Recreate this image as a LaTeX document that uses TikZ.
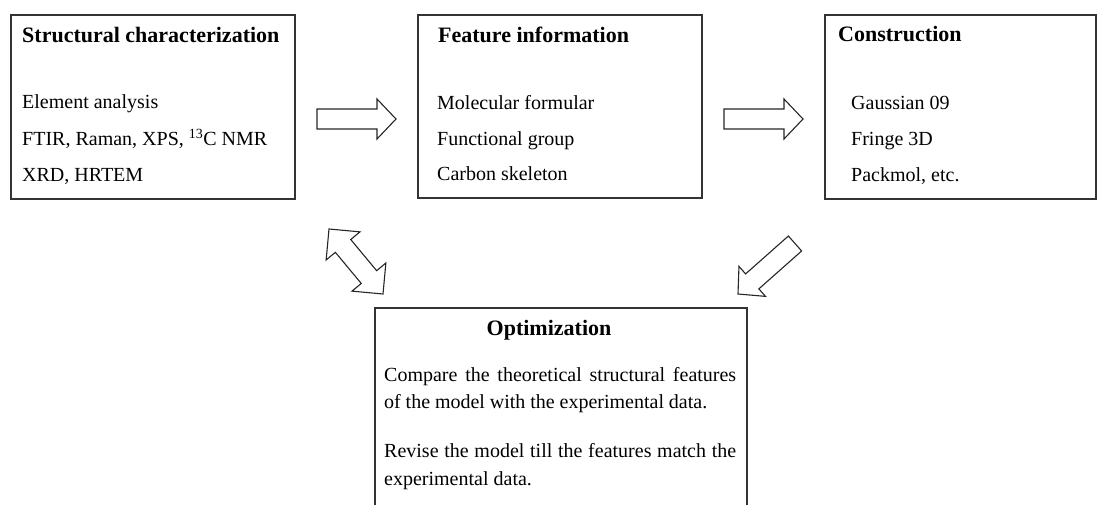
\documentclass[tikz,border=0pt]{standalone}
\usepackage{fontspec}
\setmainfont{Liberation Serif}
\usetikzlibrary{calc}
\tikzset{
  box/.style={draw=black!80, line width=1.1pt, inner sep=0pt, outer sep=0pt, anchor=north west},
  titletext/.style={anchor=base west, inner sep=0pt, font=\fontsize{22}{26}\selectfont\bfseries},
  bodytext/.style={anchor=base west, inner sep=0pt, font=\fontsize{20}{24}\selectfont},
  blockarrow/.style={draw=black!85, line width=1.1pt, fill=white, line join=miter},
}
\newcommand\blockarrowA[2]{%
  \coordinate (hb) at ($(#2)!19pt!(#1)$);
  \draw[blockarrow] ($(#1)!10pt!90:(#2)$) -- ($(hb)!10pt!-90:(#1)$) -- ($(hb)!20pt!-90:(#1)$) -- (#2)
    -- ($(hb)!20pt!90:(#1)$) -- ($(hb)!10pt!90:(#1)$) -- ($(#1)!10pt!-90:(#2)$) -- cycle;
}
\newcommand\blockarrowB[2]{%
  \coordinate (ha) at ($(#1)!22pt!(#2)$);
  \coordinate (hb) at ($(#2)!22pt!(#1)$);
  \draw[blockarrow] (#1) -- ($(ha)!22pt!90:(#2)$) -- ($(ha)!10pt!90:(#2)$) -- ($(hb)!10pt!-90:(#1)$)
    -- ($(hb)!22pt!-90:(#1)$) -- (#2) -- ($(hb)!22pt!90:(#1)$) -- ($(hb)!10pt!90:(#1)$)
    -- ($(ha)!10pt!-90:(#2)$) -- ($(ha)!22pt!-90:(#2)$) -- cycle;
}
\begin{document}
\begin{tikzpicture}[x=1pt, y=-1pt]
\useasboundingbox (0,0) rectangle (1097,505);
\clip (0,0) rectangle (1097,505);

% boxes
\node[box, minimum width=284pt, minimum height=184pt] (sc) at (11,15) {};
\node[box, minimum width=284pt, minimum height=183pt] (fi) at (418,15) {};
\node[box, minimum width=271pt, minimum height=184pt] (co) at (825,15) {};
\node[box, minimum width=372pt, minimum height=230pt] (op) at (375,308) {};

% box 1
\node[titletext] (t1) at (22,43) {Structural characterization};
\node[bodytext] (b11) at (22,109) {Element analysis};
\node[bodytext] (b12) at (22,146) {FTIR, Raman, XPS, \textsuperscript{13}C NMR};
\node[bodytext] (b13) at (22,182) {XRD, HRTEM};

% box 2
\node[titletext] (t2) at (438,43) {Feature information};
\node[bodytext] (b21) at (437,110) {Molecular formular};
\node[bodytext] (b22) at (437,146) {Functional group};
\node[bodytext] (b23) at (437,181) {Carbon skeleton};

% box 3
\node[titletext] (t3) at (838,42) {Construction};
\node[bodytext] (b31) at (851,110) {Gaussian 09};
\node[bodytext] (b32) at (851,146) {Fringe 3D};
\node[bodytext] (b33) at (851,182) {Packmol, etc.};

% box 4
\node[titletext, anchor=base] (t4) at (549,335) {Optimization};
\node[bodytext] (b41) at (384,381) {\makebox[352pt][s]{Compare the theoretical structural features}};
\node[bodytext] (b42) at (384,408) {\makebox[323pt][s]{of the model with the experimental data.}};
\node[bodytext] (b43) at (384,457) {\makebox[352pt][s]{Revise the model till the features match the}};
\node[bodytext] (b44) at (384,485) {experimental data.};

% arrows
\coordinate (a1s) at (317,119);
\coordinate (a1e) at (396,119);
\coordinate (a2s) at (724,119);
\coordinate (a2e) at (803,119);
\coordinate (a3s) at (795,243.5);
\coordinate (a3e) at (738,294);
\coordinate (d1) at (329,229);
\coordinate (d2) at (383,294);
\blockarrowA{a1s}{a1e}
\blockarrowA{a2s}{a2e}
\blockarrowA{a3s}{a3e}
\blockarrowB{d1}{d2}
\end{tikzpicture}
\end{document}
